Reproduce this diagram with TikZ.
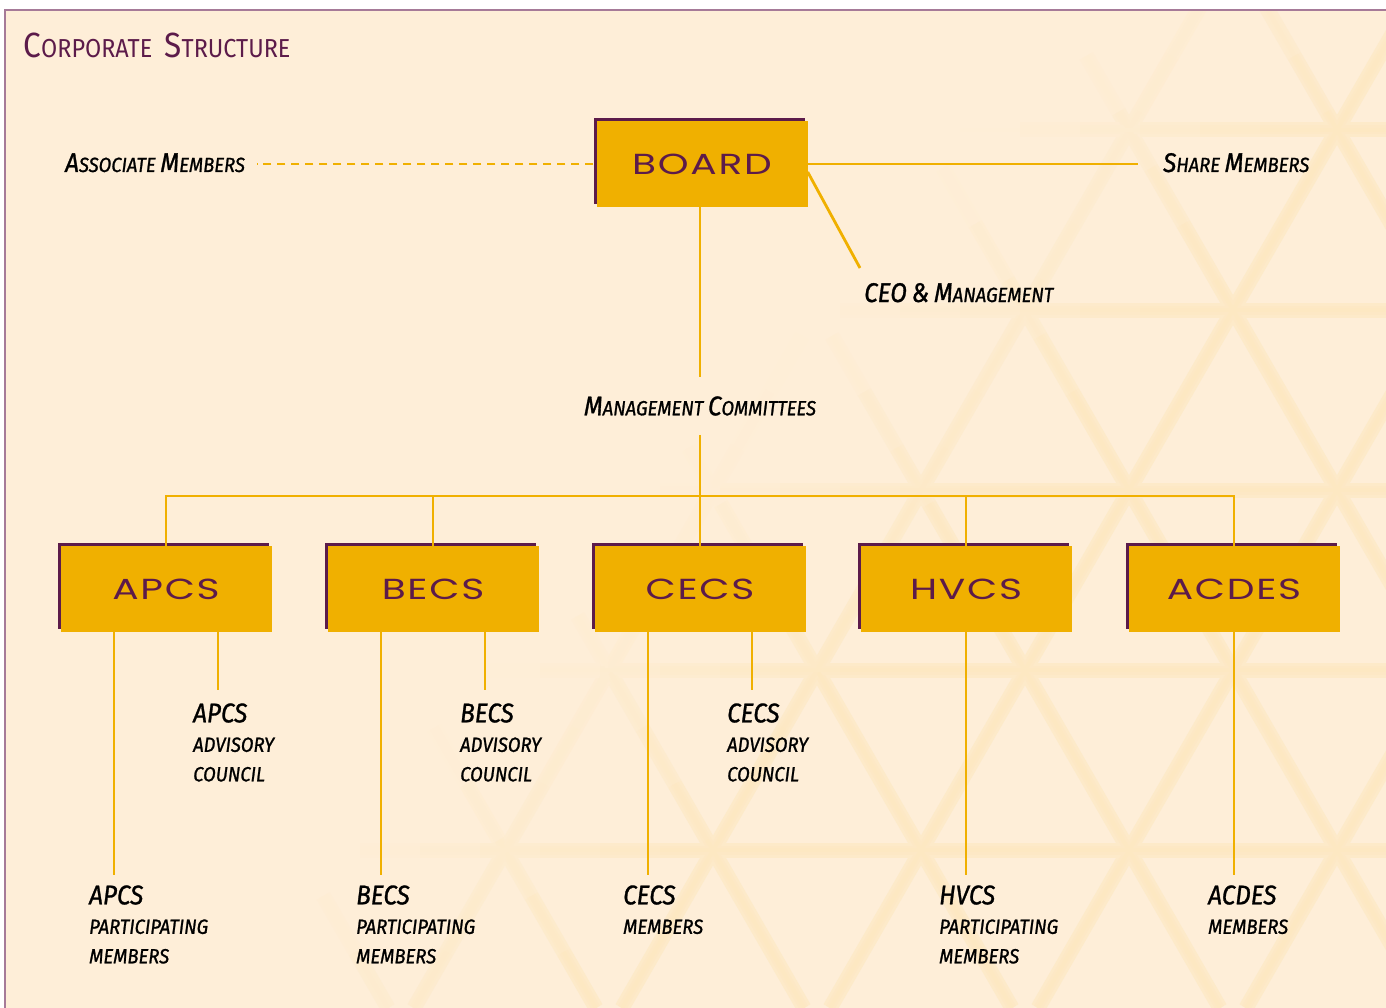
\documentclass[tikz,border=0pt]{standalone}
\usepackage{fontspec}
\setmainfont{Fira Sans}
\newfontfamily\lblfont[FakeStretch=0.9,FakeBold=1.1]{Fira Sans}
\newfontfamily\headfont[FakeStretch=0.9]{Fira Sans}
\newfontfamily\boxfont[FakeStretch=1.35,LetterSpace=6]{Poppins}
\usetikzlibrary{positioning,calc,shadows}

\definecolor{cream}{HTML}{FEEED8}
\definecolor{gold}{HTML}{F0B000}
\definecolor{plum}{HTML}{5C1B4A}
\definecolor{rim}{HTML}{A67A98}

% bigger first letters for the hand-made small caps
\newcommand{\initial}[1]{{\fontsize{27}{29.5}\selectfont #1}}
\newcommand{\headinit}[1]{{\fontsize{35}{38}\selectfont #1}}
\newcommand{\lead}[1]{{\fontsize{27}{29.5}\selectfont #1}}

\tikzset{
    link/.style={gold, line width=2.8pt},
    unit/.style={fill=gold, minimum width=211pt, minimum height=86pt, inner sep=0pt,
        text=plum, font=\boxfont\fontsize{29}{32}\selectfont,
        general shadow={fill=plum, shadow xshift=-3pt, shadow yshift=3pt}},
    lbl/.style={inner sep=0pt, align=left, anchor=base west,
        font=\lblfont\itshape\fontsize{20.5}{29.5}\selectfont},
    lbltop/.style={lbl, anchor=north west},
    lattice/.style={line width=#1, line cap=butt},
}

\begin{document}
\begin{tikzpicture}[x=1pt,y=-1pt]
    \useasboundingbox (0,0) rectangle (1386,1008);
    \fill[white] (0,0) rectangle (1386,1008);
    \fill[cream] (5,10) rectangle (1386,1008);

    % faint triangle pattern, fading out towards the upper left
    \begin{scope}
        \clip (5,10) rectangle (1386,1008);
        \foreach \w/\m in {15pt/7,9pt/9,4pt/10}{
            \foreach \k in {-6,...,6}{
                \foreach \s in {0,...,17}{
                    \pgfmathsetmacro\ya{56*\s}
                    \pgfmathsetmacro\yb{\ya+56}
                    \pgfmathsetmacro\xa{1054+208*\k+\ya/1.732}
                    \pgfmathsetmacro\xb{\xa+56/1.732}
                    \pgfmathsetmacro\lum{\m*min(1,max(0,((\xa+\xb)/2+0.9*(\ya+28)-1100)/350))}
                    \draw[lattice=\w, gold!\lum!cream] (\xa,\ya) -- (\xb,\yb);
                    \pgfmathsetmacro\xa{1412+208*\k-\ya/1.732}
                    \pgfmathsetmacro\xb{\xa-56/1.732}
                    \pgfmathsetmacro\lum{\m*min(1,max(0,((\xa+\xb)/2+0.9*(\ya+28)-1100)/350))}
                    \draw[lattice=\w, gold!\lum!cream] (\xa,\ya) -- (\xb,\yb);
                }
            }
            \foreach \y in {130,310,...,850}{
                \foreach \s in {0,...,23}{
                    \pgfmathsetmacro\xa{60*\s}
                    \pgfmathsetmacro\lum{\m*min(1,max(0,(\xa+30+0.9*\y-1100)/350))}
                    \draw[lattice=\w, gold!\lum!cream] (\xa,\y) -- ++(60,0);
                }
            }
        }
    \end{scope}
    \draw[rim, line width=1.4pt] (5,1008) -- (5,10) -- (1386,10);

    \node[anchor=base west, text=plum, font=\headfont\fontsize{26}{30}\selectfont]
        (title) at (20,58) {\headinit{C}ORPORATE\hspace{6pt} \headinit{S}TRUCTURE};

    % top level
    \node[unit] (board) at (702,164) {BOARD};
    \node[lbl] (assoc) at (65,172) {\initial{A}SSOCIATE \initial{M}EMBERS};
    \node[lbl] (share) at (1163,172) {\initial{S}HARE \initial{M}EMBERS};
    \node[lbl] (ceo) at (864,302) {\initial{CEO} \initial{\&} \initial{M}ANAGEMENT};
    \node[lbl, anchor=center, inner ysep=19pt] (mgmt) at (700,406)
        {\initial{M}ANAGEMENT \initial{C}OMMITTEES};
    \coordinate (ceo-end) at (860,268);

    \draw[link, dashed, dash pattern=on 8pt off 6pt, shorten <=3pt, shorten >=12pt]
        (board.west) -- (board.west -| assoc.east);
    \draw[link, shorten >=25pt] (board.east) -- (board.east -| share.west);
    \draw[link] ([yshift=-8pt]board.east) -- (ceo-end);
    \draw[link] (board.south -| mgmt.north) -- (mgmt.north);

    % the five units
    \foreach \name/\txt/\x in {apcs/APCS/166,becs/BECS/433,cecs/CECS/700,hvcs/HVCS/966,acdes/ACDES/1234}{
        \node[unit] (\name) at (\x,589) {\txt};
    }
    \coordinate (bus) at (0,496);
    \draw[link] (apcs.north) -- (apcs.north |- bus) -| (acdes.north);
    \foreach \name in {becs,hvcs}
        \draw[link] (\name.north) -- (\name.north |- bus);
    \draw[link] (mgmt.south) -- (cecs.north);

    % councils and members below the units
    \foreach \name in {apcs,becs,cecs}{
        \coordinate (\name-adv) at ($(\name.south)+(52,58)$);
        \coordinate (\name-mem) at ($(\name.south)+(-52,243)$);
    }
    \coordinate (hvcs-mem) at ($(hvcs.south)+(0,243)$);
    \coordinate (acdes-mem) at ($(acdes.south)+(0,243)$);

    \node[lbltop] (apcs-council) at ($(apcs-adv)+(-25,13)$) {\lead{APCS}\\ADVISORY\\COUNCIL};
    \node[lbltop] (becs-council) at ($(becs-adv)+(-25,13)$) {\lead{BECS}\\ADVISORY\\COUNCIL};
    \node[lbltop] (cecs-council) at ($(cecs-adv)+(-25,13)$) {\lead{CECS}\\ADVISORY\\COUNCIL};
    \node[lbltop] (apcs-members) at ($(apcs-mem)+(-25,10)$) {\lead{APCS}\\PARTICIPATING\\MEMBERS};
    \node[lbltop] (becs-members) at ($(becs-mem)+(-25,10)$) {\lead{BECS}\\PARTICIPATING\\MEMBERS};
    \node[lbltop] (cecs-members) at ($(cecs-mem)+(-25,10)$) {\lead{CECS}\\MEMBERS};
    \node[lbltop] (hvcs-members) at ($(hvcs-mem)+(-27,10)$) {\lead{HVCS}\\PARTICIPATING\\MEMBERS};
    \node[lbltop] (acdes-members) at ($(acdes-mem)+(-26,10)$) {\lead{ACDES}\\MEMBERS};

    \foreach \name in {apcs,becs,cecs}{
        \draw[link] (\name.south -| \name-adv) -- (\name-adv);
        \draw[link] (\name.south -| \name-mem) -- (\name-mem);
    }
    \foreach \name in {hvcs,acdes}
        \draw[link] (\name.south) -- (\name-mem);
\end{tikzpicture}
\end{document}
